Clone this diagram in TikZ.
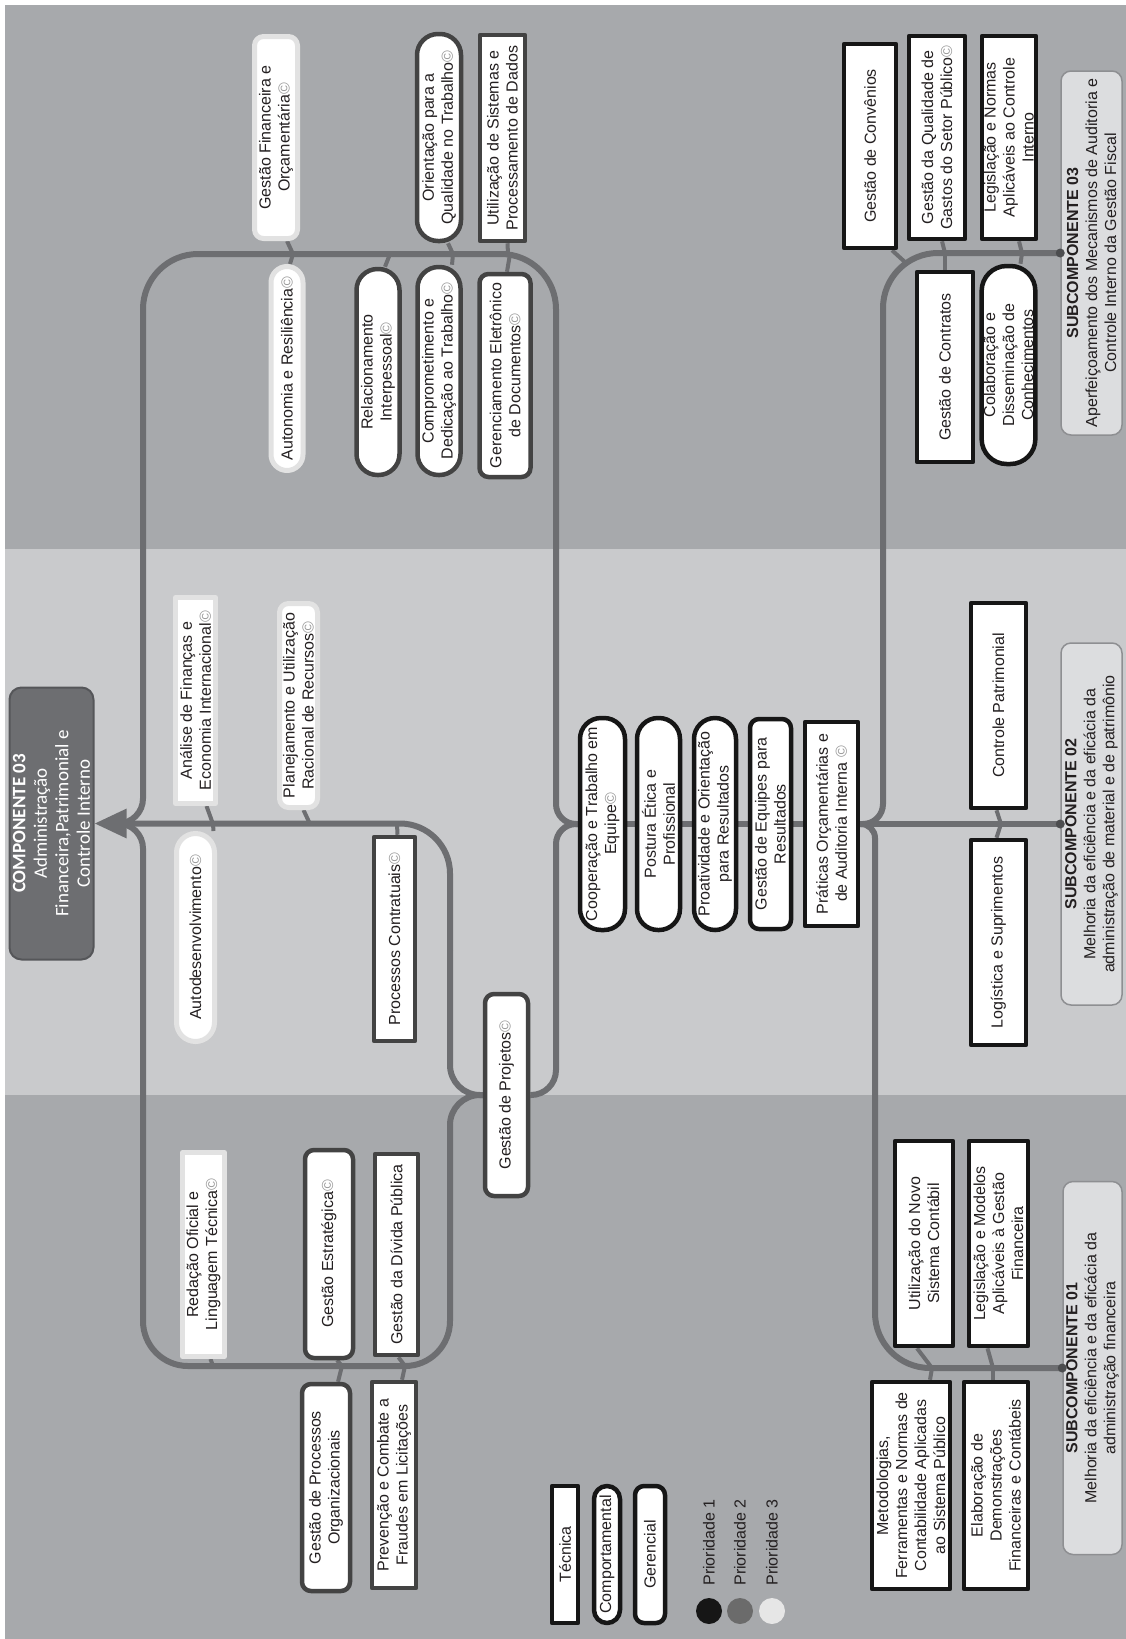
\documentclass[tikz,border=0pt]{standalone}
\usepackage{fontspec}
\usetikzlibrary{arrows.meta}
\setmainfont{Liberation Sans}
\newfontfamily\calibri{Carlito}
\newcommand{\skillfont}{\fontsize{16}{19}\selectfont}
\newcommand{\compfont}{\calibri\fontsize{19}{21.5}\selectfont}
\newcommand{\copyr}{\textcolor{black!40}{©}}
\definecolor{bandescuro}{HTML}{A7A9AC}
\definecolor{bandclaro}{HTML}{C9CACC}
\definecolor{linha}{HTML}{6D6E71}
\definecolor{compborda}{HTML}{555659}
\definecolor{pri1}{HTML}{161616}
\definecolor{pri2}{HTML}{434343}
\definecolor{pri3}{HTML}{E2E2E2}
\definecolor{pri2c}{HTML}{6B6B6B}
\definecolor{pri3c}{HTML}{E6E6E6}
\definecolor{texto}{HTML}{231F20}
\definecolor{subfill}{HTML}{DCDDDF}
\definecolor{subborda}{HTML}{8E8F92}
\pgfdeclarelayer{bands}
\pgfdeclarelayer{lines}
\pgfsetlayers{bands,lines,main}

\begin{document}
\begin{tikzpicture}[x=1pt, y=1pt, line cap=round, line join=round]
	\tikzset{
		skill/.style={rotate=90, fill=white, text=texto, align=center, font=\skillfont, inner sep=2pt, line width=4.5pt, minimum width=204pt},
		tec/.style={skill},
		comport/.style={skill, rounded corners=#1}, comport/.default=21pt,
		geren/.style={skill, rounded corners=9pt},
		p1/.style={draw=pri1}, p2/.style={draw=pri2}, p3/.style={draw=pri3, line width=5pt},
		subbox/.style={rotate=90, fill=subfill, draw=subborda, line width=1.5pt, rounded corners=10pt, align=center, font=\skillfont, text=texto, inner sep=2pt},
		trunk/.style={draw=linha, line width=6pt},
		stub/.style={draw=linha, line width=4pt}
	}
	\useasboundingbox (0,0) rectangle (1126,-1639);
	\begin{pgfonlayer}{bands}
		\fill[bandescuro] (5,-5) rectangle (1126,-549);
		\fill[bandclaro] (5,-549) rectangle (1126,-1095);
		\fill[bandescuro] (5,-1095) rectangle (1126,-1639);
	\end{pgfonlayer}

	% componente e subcomponentes
	\node[rotate=90, fill=linha, draw=compborda, line width=2pt, rounded corners=12pt, minimum width=272pt, minimum height=84pt, align=center, text=white, font=\compfont] (componente) at (51.5,-823.5) {\textbf{COMPONENTE 03}\\Administração\\Financeira,Patrimonial e\\Controle Interno};
	\node[subbox, minimum width=364pt, minimum height=61pt] (sub3) at (1091.5,-253) {\textbf{SUBCOMPONENTE 03}\\Aperfeiçoamento dos Mecanismos de Auditoria e\\Controle Interno da Gestão Fiscal};
	\node[subbox, minimum width=362pt, minimum height=61pt] (sub2) at (1091.5,-824) {\textbf{SUBCOMPONENTE 02}\\Melhoria da eficiência e da eficácia da\\administração de material e de patrimônio};
	\node[subbox, minimum width=373pt, minimum height=59pt] (sub1) at (1092.5,-1368) {\textbf{SUBCOMPONENTE 01}\\Melhoria da eficiência e da eficácia da\\administração financeira};

	% faixa superior
	\node[geren, p3, minimum height=43pt, minimum width=202pt] (finorc) at (276,-137.5) {Gestão Financeira e\\Orçamentária\copyr};
	\node[comport, p2, minimum height=44pt, minimum width=207pt] (orient) at (439,-137.5) {Orientação para a\\Qualidade no Trabalho\copyr};
	\node[tec, p2, minimum height=45pt, minimum width=206pt] (utilsis) at (502.5,-138) {Utilização de Sistemas e\\Processamento de Dados};
	\node[comport=16pt, p3, minimum height=32pt] (auton) at (287,-368.5) {Autonomia e Resiliência\copyr};
	\node[comport, p2, minimum height=43pt, minimum width=206pt] (relac) at (378,-372) {Relacionamento\\Interpessoal\copyr};
	\node[comport, p2, minimum height=43pt, minimum width=208pt] (compr) at (439,-371) {Comprometimento e\\Dedicação ao Trabalho\copyr};
	\node[geren, p2, minimum height=51pt, minimum width=203pt] (gerel) at (505,-375.5) {Gerenciamento Eletrônico\\de Documentos\copyr};
	\node[tec, p1, minimum height=52pt] (conv) at (870,-146) {Gestão de Convênios};
	\node[tec, p1, minimum height=56pt, minimum width=203pt] (qualg) at (937,-137.5) {Gestão da Qualidade de\\Gastos do Setor Público\copyr};
	\node[tec, p1, minimum height=54pt, minimum width=203pt] (legci) at (1009,-137.5) {Legislação e Normas\\Aplicáveis ao Controle\\Interno};
	\node[tec, p1, minimum height=56pt, minimum width=190pt] (contr) at (945,-367) {Gestão de Contratos};
	\node[comport=25pt, p1, minimum height=53pt, minimum width=198pt] (colab) at (1008.5,-365) {Colaboração e\\Disseminação de\\Conhecimentos};

	% faixa central
	\node[tec, p3, minimum height=40pt, minimum width=206pt] (analise) at (195.5,-700.5) {Análise de Finanças e\\Economia Internacional\copyr};
	\node[comport=19pt, p3, minimum height=38pt, minimum width=208pt] (autodes) at (195.5,-937.5) {Autodesenvolvimento\copyr};
	\node[geren, p3, minimum height=38pt] (planej) at (298.5,-705.5) {Planejamento e Utilização\\Racional de Recursos\copyr};
	\node[tec, p2, minimum height=41pt] (procc) at (394.5,-939) {Processos Contratuais\copyr};
	\node[geren, p2, minimum height=43pt, minimum width=202pt] (gproj) at (506.5,-1095) {Gestão de Projetos\copyr};
	\node[comport, p1, minimum height=45pt, minimum width=212pt] (coop) at (602.5,-824) {Cooperação e Trabalho em\\Equipe\copyr};
	\node[comport, p1, minimum height=43pt, minimum width=212pt] (postura) at (658.5,-824) {Postura Ética e\\Profissional};
	\node[comport, p1, minimum height=42pt, minimum width=212pt] (proat) at (715,-824) {Proatividade e Orientação\\para Resultados};
	\node[geren, p1, minimum height=41pt, minimum width=210pt] (gequip) at (770.5,-824) {Gestão de Equipes para\\Resultados};
	\node[tec, p1, minimum height=53pt] (pratic) at (831.5,-824) {Práticas Orçamentárias e\\de Auditoria Interna \copyr};
	\node[tec, p1, minimum height=55pt, minimum width=205pt] (contpat) at (998.5,-705.5) {Controle Patrimonial};
	\node[tec, p1, minimum height=55pt, minimum width=205pt] (logist) at (998.5,-942.5) {Logística e Suprimentos};

	% faixa inferior
	\node[tec, p3, minimum height=42pt] (redac) at (203.5,-1254.5) {Redação Oficial e\\Linguagem Técnica\copyr};
	\node[geren, p2, minimum height=48pt, minimum width=208pt] (gestr) at (329,-1254) {Gestão Estratégica\copyr};
	\node[tec, p2, minimum height=43pt, minimum width=201pt] (divida) at (396.5,-1254.5) {Gestão da Dívida Pública};
	\node[geren, p2, minimum height=48pt, minimum width=207pt] (procorg) at (326,-1487.5) {Gestão de Processos\\Organizacionais};
	\node[tec, p2, minimum height=44pt, minimum width=206pt] (preven) at (394,-1485) {Prevenção e Combate a\\Fraudes em Licitações};
	\node[tec, p1, minimum height=58pt, minimum width=205pt] (utilnovo) at (924,-1243.5) {Utilização do Novo\\Sistema Contábil};
	\node[tec, p1, minimum height=59pt, minimum width=205pt] (legmod) at (998.5,-1243.5) {Legislação e Modelos\\Aplicáveis à Gestão\\Financeira};
	\node[tec, p1, minimum height=78pt, minimum width=207pt] (metod) at (911,-1485.5) {Metodologias,\\Ferramentas e Normas de\\Contabilidade Aplicadas\\ao Sistema Público};
	\node[tec, p1, minimum height=64pt, minimum width=207pt] (elab) at (996,-1485.5) {Elaboração de\\Demonstrações\\Financeiras e Contábeis};

	% legenda
	\node[tec, p1, minimum height=26pt, minimum width=137pt] (ltec) at (565,-1554.5) {Técnica};
	\node[comport=13pt, p1, minimum height=26pt, minimum width=137pt] (lcomport) at (607,-1554.5) {Comportamental};
	\node[geren, p1, minimum height=30pt, minimum width=137pt] (lgeren) at (650,-1554.5) {Gerencial};
	\node[circle, fill=pri1, minimum size=26pt, inner sep=0pt] (cp1) at (709,-1611) {};
	\node[circle, fill=pri2c, minimum size=26pt, inner sep=0pt] (cp2) at (740,-1611) {};
	\node[circle, fill=pri3c, minimum size=26pt, inner sep=0pt] (cp3) at (772,-1611) {};
	\foreach \c/\t in {cp1/1, cp2/2, cp3/3}
		\node[rotate=90, anchor=west, font=\skillfont, text=texto, inner sep=0pt] (l\c) at ([yshift=12pt]\c.north) {Prioridade \t};

	% linhas
	\coordinate (seta) at ([xshift=20pt]componente.south);
	\coordinate (j3) at (883,-560);
	\coordinate (j1) at (875,-1100);
	\coordinate (jt) at (556,-500);
	\coordinate (topo) at (350,-254);
	\coordinate (jl) at (143,-500);
	\coordinate (jc) at (556,-950);
	\coordinate (jm) at (450,-950);
	\coordinate (jb) at (450,-1250);
	\coordinate (baixo) at (300,-1366);
	\coordinate (jbl) at (143,-1100);
	\begin{pgfonlayer}{lines}
		\draw[trunk, rounded corners=55pt] (sub3.north) -| (j3);
		\draw[trunk, rounded corners=20pt] (j3) |- (pratic.south);
		\draw[trunk] (sub2.north) -- (pratic.south);
		\draw[trunk, rounded corners=55pt] (sub1.north) -| (j1);
		\draw[trunk, rounded corners=14pt] (j1) |- (pratic.south);
		\draw[trunk] (pratic.north) -- (coop.south);
		\draw[trunk, rounded corners=20pt] (coop.north) -| (jt);
		\draw[trunk, rounded corners=55pt] (jt) |- (topo) -| (jl);
		\draw[trunk, rounded corners=25pt] (jl) |- (seta);
		\draw[trunk, rounded corners=20pt] (coop.north) -| (jc);
		\draw[trunk, rounded corners=25pt] (jc) |- (gproj.south);
		\draw[trunk, rounded corners=30pt] (gproj.north) -| (jm);
		\draw[trunk, rounded corners=50pt, -{Triangle[length=32pt, width=28pt]}] (jm) |- (componente.south);
		\draw[trunk, rounded corners=30pt] (gproj.north) -| (jb);
		\draw[trunk, rounded corners=45pt] (jb) |- (baixo) -| (jbl);
		\draw[trunk, rounded corners=25pt] (jbl) |- (seta);
		\foreach \n/\a/\dx/\px/\py in {finorc/west/11/293/254, auton/east/3/293/254, orient/west/9/453/254, compr/east/13/453/254, utilsis/west/5/508/254, relac/east/7/390/254, gerel/east/2/510/254, conv/west/22/906/263, qualg/west/5/945/253, contr/east/0/945/253, legci/west/10/1022/253, colab/east/12/1022/253, analise/west/11/213/824, autodes/east/18/213/824, planej/west/5/310/824, procc/east/3/397/824, contpat/west/-2/1001/824, logist/east/-2/1001/824, redac/west/7/213/1366, gestr/west/8/342/1366, procorg/east/12/342/1366, divida/west/2/405/1366, preven/east/8/405/1366, utilnovo/west/-7/932/1368, metod/east/19/932/1368, legmod/west/-11/993/1368, elab/east/-3/993/1368}
			\draw[stub] ([xshift=\dx pt]\n.\a) -- (\px,-\py);
	\end{pgfonlayer}
	\foreach \s in {sub1, sub2, sub3}
		\fill[linha!70!black] (\s.north) circle (4.5pt);
\end{tikzpicture}
\end{document}
